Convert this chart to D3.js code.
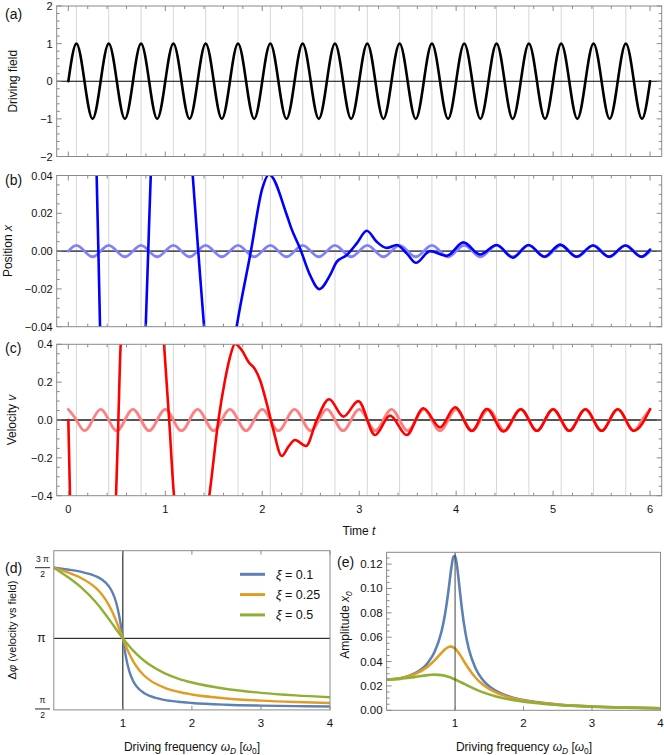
<!DOCTYPE html>
<html><head><meta charset="utf-8">
<script src="https://cdn.jsdelivr.net/npm/d3@7/dist/d3.min.js"></script>
<style>
body{margin:0;background:#fff}
svg{display:block}
text{font-family:"Liberation Sans",Arial,Helvetica,sans-serif;fill:#111}
</style></head>
<body><svg id="chart" width="664" height="755"></svg>
<script>
// ---------------- DATA ----------------
// time axis
const timeTickVals = [0,1,2,3,4,5,6];
const timeTickLabels = ["0","1","2","3","4","5","6"];
const gridTimes = [0.0833,0.4167,0.75,1.0833,1.4167,1.75,2.0833,2.4167,2.75,3.0833,3.4167,3.75,4.0833,4.4167,4.75,5.0833,5.4167,5.75];

// steady-state samples every 1/12 time unit (quarter period of the drive)
const drivingField = [0,1,0,-1,0,1,0,-1,0,1,0,-1,0,1,0,-1,0,1,0,-1,0,1,0,-1,0,1,0,-1,0,1,0,-1,0,1,0,-1,0,1,0,-1,0,1,0,-1,0,1,0,-1,0,1,0,-1,0,1,0,-1,0,1,0,-1,0,1,0,-1,0,1,0,-1,0,1,0,-1,0];
const positionSteady = [0,0.003,0,-0.003,0,0.003,0,-0.003,0,0.003,0,-0.003,0,0.003,0,-0.003,0,0.003,0,-0.003,0,0.003,0,-0.003,0,0.003,0,-0.003,0,0.003,0,-0.003,0,0.003,0,-0.003,0,0.003,0,-0.003,0,0.003,0,-0.003,0,0.003,0,-0.003,0,0.003,0,-0.003,0,0.003,0,-0.003,0,0.003,0,-0.003,0,0.003,0,-0.003,0,0.003,0,-0.003,0,0.003,0,-0.003,0];
const velocitySteady = [0.0565,0,-0.0565,0,0.0565,0,-0.0565,0,0.0565,0,-0.0565,0,0.0565,0,-0.0565,0,0.0565,0,-0.0565,0,0.0565,0,-0.0565,0,0.0565,0,-0.0565,0,0.0565,0,-0.0565,0,0.0565,0,-0.0565,0,0.0565,0,-0.0565,0,0.0565,0,-0.0565,0,0.0565,0,-0.0565,0,0.0565,0,-0.0565,0,0.0565,0,-0.0565,0,0.0565,0,-0.0565,0,0.0565,0,-0.0565,0,0.0565,0,-0.0565,0,0.0565,0,-0.0565,0,0.0565];

// full solution (transient + steady)
const positionT = [0,0.292,0.31,0.327,0.56,0.798,0.824,0.850,1.08,1.283,1.34,1.40,1.57,1.736,1.883,2.00,2.07,2.253,2.30,2.39,2.493,2.589,2.699,2.768,2.872,2.975,3.078,3.181,3.284,3.387,3.49,3.586,3.731,3.903,4.075,4.246,4.419,4.584,4.745,4.91,5.072,5.24,5.41,5.575,5.745,5.91,6.0];
const positionFull = [0.45,0.04,0,-0.04,-0.3,-0.04,0,0.04,0.2,0.04,0,-0.04,-0.1,-0.04,0,0.033,0.0405,0.0191,0.012,0.0014,-0.0127,-0.0201,-0.0127,-0.0057,-0.0021,0.0041,0.0108,0.0049,0.0017,0.0032,-0.0012,-0.0062,0.0,-0.0025,0.0046,-0.0018,0.0032,-0.0035,0.0032,-0.003,0.0034,-0.003,0.003,-0.003,0.003,-0.003,0.0008];
const velocityT = [0,0.017,0.05,0.26,0.492,0.516,0.540,0.78,0.987,1.04,1.09,1.27,1.454,1.548,1.616,1.668,1.719,1.788,1.857,1.926,1.977,2.046,2.115,2.201,2.27,2.338,2.452,2.562,2.69,2.837,2.991,3.163,3.318,3.49,3.662,3.834,3.989,4.161,4.316,4.487,4.667,4.833,5.0,5.167,5.333,5.5,5.667,5.833,6.0];
const velocityFull = [0,-0.4,-1.2,-2.0,-0.4,0,0.4,1.5,0.4,0,-0.4,-0.9,-0.4,0,0.211,0.334,0.402,0.37,0.308,0.268,0.211,0.088,-0.053,-0.19,-0.141,-0.106,-0.137,0,0.11,0.018,0.100,-0.079,0.023,-0.079,0.062,-0.039,0.067,-0.058,0.058,-0.061,0.057,-0.057,0.057,-0.057,0.057,-0.057,0.057,-0.057,0.057];

// panel tick labels
const fieldTicks = [-2,-1,0,1,2];
const fieldTickLabels = ["\u22122","\u22121","0","1","2"];
const posTicks = [-0.04,-0.02,0,0.02,0.04];
const posTickLabels = ["\u22120.04","\u22120.02","0.00","0.02","0.04"];
const velTicks = [-0.4,-0.2,0,0.2,0.4];
const velTickLabels = ["\u22120.4","\u22120.2","0.0","0.2","0.4"];

// frequency response
const omega = [0,0.2,0.4,0.6,0.7,0.8,0.85,0.9,0.925,0.95,0.975,1.0,1.025,1.05,1.075,1.1,1.15,1.2,1.3,1.4,1.6,1.8,2.0,2.5,3.0,3.5,4.0];
const xiLabels = ["0.1","0.25","0.5"];
const seriesColors = ["#5e81b5","#e19c24","#8fb032"];
const phaseXi01 = [4.7124,4.6708,4.6174,4.5270,4.4444,4.2942,4.1629,3.9540,3.8046,3.6158,3.3895,3.1416,2.9001,2.6878,2.5152,2.3795,2.1904,2.0704,1.9314,1.8546,1.7731,1.7302,1.7034,1.6657,1.6457,1.6329,1.6241];
const phaseXi025 = [4.7124,4.6086,4.4787,4.2736,4.1111,3.8744,3.7203,3.5413,3.4440,3.3440,3.2426,3.1416,3.0431,2.9488,2.8600,2.7767,2.6306,2.5090,2.3265,2.2008,2.0445,1.9529,1.8926,1.8045,1.7562,1.7251,1.7034];
const phaseXi05 = [4.7124,4.5070,4.2678,3.9592,3.7714,3.5645,3.4575,3.3496,3.2964,3.2439,3.1922,3.1416,3.0922,3.0443,2.9978,2.9530,2.8684,2.7903,2.6538,2.5405,2.3689,2.2477,2.1588,2.0154,1.9296,1.8725,1.8314];
const ampXi01 = [0.02533,0.02636,0.03002,0.03890,0.04789,0.06429,0.07784,0.09679,0.10794,0.11861,0.12593,0.12690,0.11996,0.10840,0.09544,0.08329,0.06395,0.05054,0.03435,0.02533,0.01591,0.01116,0.00837,0.00480,0.00316,0.00225,0.00169];
const ampXi025 = [0.02533,0.02624,0.02933,0.03584,0.04095,0.04707,0.04990,0.05186,0.05228,0.05224,0.05169,0.05066,0.04919,0.04735,0.04527,0.04303,0.03842,0.03404,0.02672,0.02132,0.01445,0.01049,0.00801,0.00469,0.00311,0.00223,0.00167];
const ampXi05 = [0.02533,0.02583,0.02723,0.02887,0.02925,0.02887,0.02833,0.02754,0.02706,0.02652,0.02595,0.02533,0.02468,0.02401,0.02332,0.02262,0.02121,0.01982,0.01721,0.01492,0.01134,0.00881,0.00703,0.00436,0.00297,0.00215,0.00163];
const freqTickVals = [1,2,3,4];
const freqTickLabels = ["1","2","3","4"];
const phaseTickVals = [1.5708,3.1416,4.7124];
const phaseTickNum = ["\u03c0","\u03c0","3 \u03c0"];
const phaseTickDen = ["2","","2"];
const ampTickVals = [0,0.02,0.04,0.06,0.08,0.10,0.12];
const ampTickLabels = ["0.00","0.02","0.04","0.06","0.08","0.10","0.12"];

// ---------------- DRAWING ----------------
const svg = d3.select("#chart");
const FRAME = "#8a8a8a";
const xT = d3.scaleLinear().domain([-0.12, 6.12]).range([56.7, 661.7]);
const steadyT = d3.range(drivingField.length).map(i => i / 12);

function addText(g, x, y, parts, opts = {}) {
  const t = g.append("text").attr("x", x).attr("y", y)
    .attr("font-size", opts.size || 12)
    .attr("text-anchor", opts.anchor || "start");
  if (opts.transform) t.attr("transform", opts.transform).attr("x", 0).attr("y", 0);
  parts.forEach(p => {
    const s = t.append("tspan").text(p.t);
    if (p.i) s.attr("font-style", "italic");
    if (p.sub) s.attr("font-size", (opts.size || 12) * 0.7).attr("dy", p.dy);
    else if (p.dy) s.attr("dy", p.dy);
  });
  return t;
}

let clipId = 0;
function timePanel(cfg) {
  const g = svg.append("g");
  const y = d3.scaleLinear().domain(cfg.domain).range(cfg.range);
  const x0 = xT.range()[0], x1 = xT.range()[1];
  const yTop = cfg.range[1], yBot = cfg.range[0];
  const id = "clip" + (clipId++);
  svg.append("clipPath").attr("id", id).append("rect")
    .attr("x", x0).attr("y", yTop).attr("width", x1 - x0).attr("height", yBot - yTop);
  g.selectAll(".grid").data(gridTimes).join("line")
    .attr("x1", d => xT(d)).attr("x2", d => xT(d))
    .attr("y1", yTop).attr("y2", yBot)
    .attr("stroke", "#d6d6d6").attr("stroke-width", 1);
  g.append("line").attr("x1", x0).attr("x2", x1).attr("y1", y(0)).attr("y2", y(0))
    .attr("stroke", cfg.zeroColor).attr("stroke-width", cfg.zeroWidth);
  const plot = g.append("g").attr("clip-path", `url(#${id})`);
  cfg.curves.forEach(c => {
    const line = d3.line().x((d, i) => xT(c.t[i])).y(d => y(d)).curve(c.curve);
    plot.append("path").attr("d", line(c.v)).attr("fill", "none")
      .attr("stroke", c.color).attr("stroke-width", c.width)
      .attr("stroke-linejoin", "round").attr("stroke-linecap", "round")
      .attr("opacity", c.opacity || 1);
  });
  g.append("rect").attr("x", x0).attr("y", yTop).attr("width", x1 - x0).attr("height", yBot - yTop)
    .attr("fill", "none").attr("stroke", FRAME).attr("stroke-width", 1);
  const minorX = d3.range(0, 6.0001, 0.2);
  minorX.forEach(v => {
    const major = Math.abs(v - Math.round(v)) < 1e-6;
    const L = major ? 5 : 3;
    g.append("line").attr("x1", xT(v)).attr("x2", xT(v)).attr("y1", yBot).attr("y2", yBot - L).attr("stroke", FRAME);
    g.append("line").attr("x1", xT(v)).attr("x2", xT(v)).attr("y1", yTop).attr("y2", yTop + L).attr("stroke", FRAME);
  });
  const [d0, d1] = cfg.domain;
  d3.range(d0, d1 + cfg.minor * 0.01, cfg.minor).forEach(v => {
    const major = cfg.ticks.some(t => Math.abs(t - v) < cfg.minor * 0.01);
    const L = major ? 5 : 3;
    g.append("line").attr("x1", x0).attr("x2", x0 + L).attr("y1", y(v)).attr("y2", y(v)).attr("stroke", FRAME);
    g.append("line").attr("x1", x1).attr("x2", x1 - L).attr("y1", y(v)).attr("y2", y(v)).attr("stroke", FRAME);
  });
  cfg.ticks.forEach((v, i) => {
    g.append("text").attr("x", x0 - 4).attr("y", y(v) + 4).attr("text-anchor", "end")
      .attr("font-size", 11).text(cfg.tickLabels[i]);
  });
  addText(g, 0, 0, cfg.ylabel, { anchor: "middle", transform: `translate(${cfg.ylabelX},${(yTop + yBot) / 2}) rotate(-90)` });
  g.append("text").attr("x", 5).attr("y", cfg.tagY).attr("font-size", 14).text(cfg.tag);
  return { g, y };
}

// (a)
timePanel({
  domain: [-2, 2], range: [156.5, 6], ticks: fieldTicks, tickLabels: fieldTickLabels, minor: 0.2,
  zeroColor: "#000", zeroWidth: 1,
  curves: [{ t: steadyT, v: drivingField, color: "#000", width: 2.6, curve: d3.curveNatural }],
  ylabel: [{ t: "Driving field" }], ylabelX: 16.5, tag: "(a)", tagY: 19
});
// (b)
timePanel({
  domain: [-0.04, 0.04], range: [326.7, 175.5], ticks: posTicks, tickLabels: posTickLabels, minor: 0.005,
  zeroColor: "#555", zeroWidth: 1.8,
  curves: [
    { t: steadyT, v: positionSteady, color: "#8080ff", width: 2.8, curve: d3.curveNatural },
    { t: positionT, v: positionFull, color: "#0000ff", width: 2.6, curve: d3.curveMonotoneX }
  ],
  ylabel: [{ t: "Position " }, { t: "x", i: true }], ylabelX: 12, tag: "(b)", tagY: 185
});
// (c)
timePanel({
  domain: [-0.4, 0.4], range: [495.7, 344.3], ticks: velTicks, tickLabels: velTickLabels, minor: 0.05,
  zeroColor: "#555", zeroWidth: 1.8,
  curves: [
    { t: steadyT, v: velocitySteady, color: "#ff8080", width: 2.8, curve: d3.curveNatural },
    { t: velocityT, v: velocityFull, color: "#ff0000", width: 2.6, curve: d3.curveMonotoneX }
  ],
  ylabel: [{ t: "Velocity " }, { t: "v", i: true }], ylabelX: 16, tag: "(c)", tagY: 353
});
timeTickVals.forEach((v, i) => {
  svg.append("text").attr("x", xT(v)).attr("y", 513).attr("text-anchor", "middle")
    .attr("font-size", 11).text(timeTickLabels[i]);
});
addText(svg, 359, 535, [{ t: "Time " }, { t: "t", i: true }], { anchor: "middle" });

function freqLabel(cx) {
  addText(svg, cx, 751, [
    { t: "Driving frequency " }, { t: "\u03c9", i: true }, { t: "D", i: true, sub: true, dy: 3 },
    { t: " [", dy: -3 }, { t: "\u03c9", i: true }, { t: "0", sub: true, dy: 3 }, { t: "]", dy: -3 }
  ], { anchor: "middle" });
}

// (d)
{
  const g = svg.append("g");
  const x = d3.scaleLinear().domain([0, 4]).range([53.8, 330]);
  const y = d3.scaleLinear().domain([1.55, 5.09]).range([709.9, 550.7]);
  const [x0, x1] = x.range(), yTop = 550.7, yBot = 709.9;
  g.append("clipPath").attr("id", "clipd").append("rect").attr("x", x0).attr("y", yTop).attr("width", x1 - x0).attr("height", yBot - yTop);
  g.append("line").attr("x1", x(1)).attr("x2", x(1)).attr("y1", yTop).attr("y2", yBot).attr("stroke", "#000").attr("stroke-width", 1);
  g.append("line").attr("x1", x0).attr("x2", x1).attr("y1", y(Math.PI)).attr("y2", y(Math.PI)).attr("stroke", "#000").attr("stroke-width", 1);
  const plot = g.append("g").attr("clip-path", "url(#clipd)");
  [phaseXi01, phaseXi025, phaseXi05].forEach((s, k) => {
    const line = d3.line().x((d, i) => x(omega[i])).y(d => y(d)).curve(d3.curveMonotoneX);
    plot.append("path").attr("d", line(s)).attr("fill", "none").attr("stroke", seriesColors[k]).attr("stroke-width", 2.4);
  });
  g.append("rect").attr("x", x0).attr("y", yTop).attr("width", x1 - x0).attr("height", yBot - yTop)
    .attr("fill", "none").attr("stroke", FRAME).attr("stroke-width", 1);
  freqTickVals.forEach((v, i) => {
    g.append("line").attr("x1", x(v)).attr("x2", x(v)).attr("y1", yBot).attr("y2", yBot - 4).attr("stroke", FRAME);
    g.append("line").attr("x1", x(v)).attr("x2", x(v)).attr("y1", yTop).attr("y2", yTop + 4).attr("stroke", FRAME);
    g.append("text").attr("x", x(v)).attr("y", 727).attr("text-anchor", "middle").attr("font-size", 11.5).text(freqTickLabels[i]);
  });
  phaseTickVals.forEach((v, i) => {
    const cy = y(v), cx = 42.5;
    if (phaseTickDen[i]) {
      g.append("text").attr("x", cx).attr("y", cy - 5.5).attr("text-anchor", "middle").attr("font-size", 8.5).text(phaseTickNum[i]);
      g.append("line").attr("x1", cx - 7.5).attr("x2", cx + 7.5).attr("y1", cy).attr("y2", cy).attr("stroke", "#111").attr("stroke-width", 0.9);
      g.append("text").attr("x", cx).attr("y", cy + 9).attr("text-anchor", "middle").attr("font-size", 8.5).text(phaseTickDen[i]);
    } else {
      g.append("text").attr("x", cx - 1).attr("y", cy + 4).attr("text-anchor", "middle").attr("font-size", 12).text(phaseTickNum[i]);
    }
  });
  xiLabels.forEach((lab, k) => {
    const ly = 574.3 + k * 20.3;
    g.append("line").attr("x1", 240).attr("x2", 265).attr("y1", ly).attr("y2", ly).attr("stroke", seriesColors[k]).attr("stroke-width", 3);
    addText(g, 276, ly + 4.5, [{ t: "\u03be", i: true }, { t: " = " + lab }], { size: 12.5 });
  });
  addText(g, 0, 0, [{ t: "\u0394" }, { t: "\u03c6", i: true }, { t: " (velocity vs field)" }],
    { anchor: "middle", size: 11, transform: "translate(16,630) rotate(-90)" });
  g.append("text").attr("x", 5).attr("y", 573).attr("font-size", 14).text("(d)");
  freqLabel(192);
}

// (e)
{
  const g = svg.append("g");
  const x = d3.scaleLinear().domain([0, 4]).range([386.6, 660.5]);
  const y = d3.scaleLinear().domain([0, 0.1297]).range([710.3, 552.3]);
  const [x0, x1] = x.range(), yTop = 552.3, yBot = 710.3;
  g.append("clipPath").attr("id", "clipe").append("rect").attr("x", x0).attr("y", yTop).attr("width", x1 - x0).attr("height", yBot - yTop);
  const plot = g.append("g").attr("clip-path", "url(#clipe)");
  [ampXi01, ampXi025, ampXi05].forEach((s, k) => {
    const line = d3.line().x((d, i) => x(omega[i])).y(d => y(d)).curve(d3.curveMonotoneX);
    plot.append("path").attr("d", line(s)).attr("fill", "none").attr("stroke", seriesColors[k]).attr("stroke-width", 2.6);
  });
  g.append("line").attr("x1", x(1)).attr("x2", x(1)).attr("y1", yTop).attr("y2", yBot).attr("stroke", "#444").attr("stroke-width", 1);
  g.append("rect").attr("x", x0).attr("y", yTop).attr("width", x1 - x0).attr("height", yBot - yTop)
    .attr("fill", "none").attr("stroke", FRAME).attr("stroke-width", 1);
  d3.range(0, 0.1296, 0.005).forEach(v => {
    const major = ampTickVals.some(t => Math.abs(t - v) < 1e-6);
    g.append("line").attr("x1", x0).attr("x2", x0 + (major ? 5 : 3)).attr("y1", y(v)).attr("y2", y(v)).attr("stroke", FRAME);
  });
  ampTickVals.forEach((v, i) => {
    g.append("text").attr("x", x0 - 4).attr("y", y(v) + 4).attr("text-anchor", "end").attr("font-size", 11.5).text(ampTickLabels[i]);
  });
  freqTickVals.forEach((v, i) => {
    g.append("line").attr("x1", x(v)).attr("x2", x(v)).attr("y1", yBot).attr("y2", yBot - 4).attr("stroke", FRAME);
    g.append("text").attr("x", x(v)).attr("y", 727).attr("text-anchor", "middle").attr("font-size", 11.5).text(freqTickLabels[i]);
  });
  addText(g, 0, 0, [{ t: "Amplitude " }, { t: "x", i: true }, { t: "0", i: true, sub: true, dy: 3 }],
    { anchor: "middle", transform: "translate(349,625) rotate(-90)" });
  g.append("text").attr("x", 337).attr("y", 567).attr("font-size", 14).text("(e)");
  freqLabel(524);
}
</script>
</body></html>
